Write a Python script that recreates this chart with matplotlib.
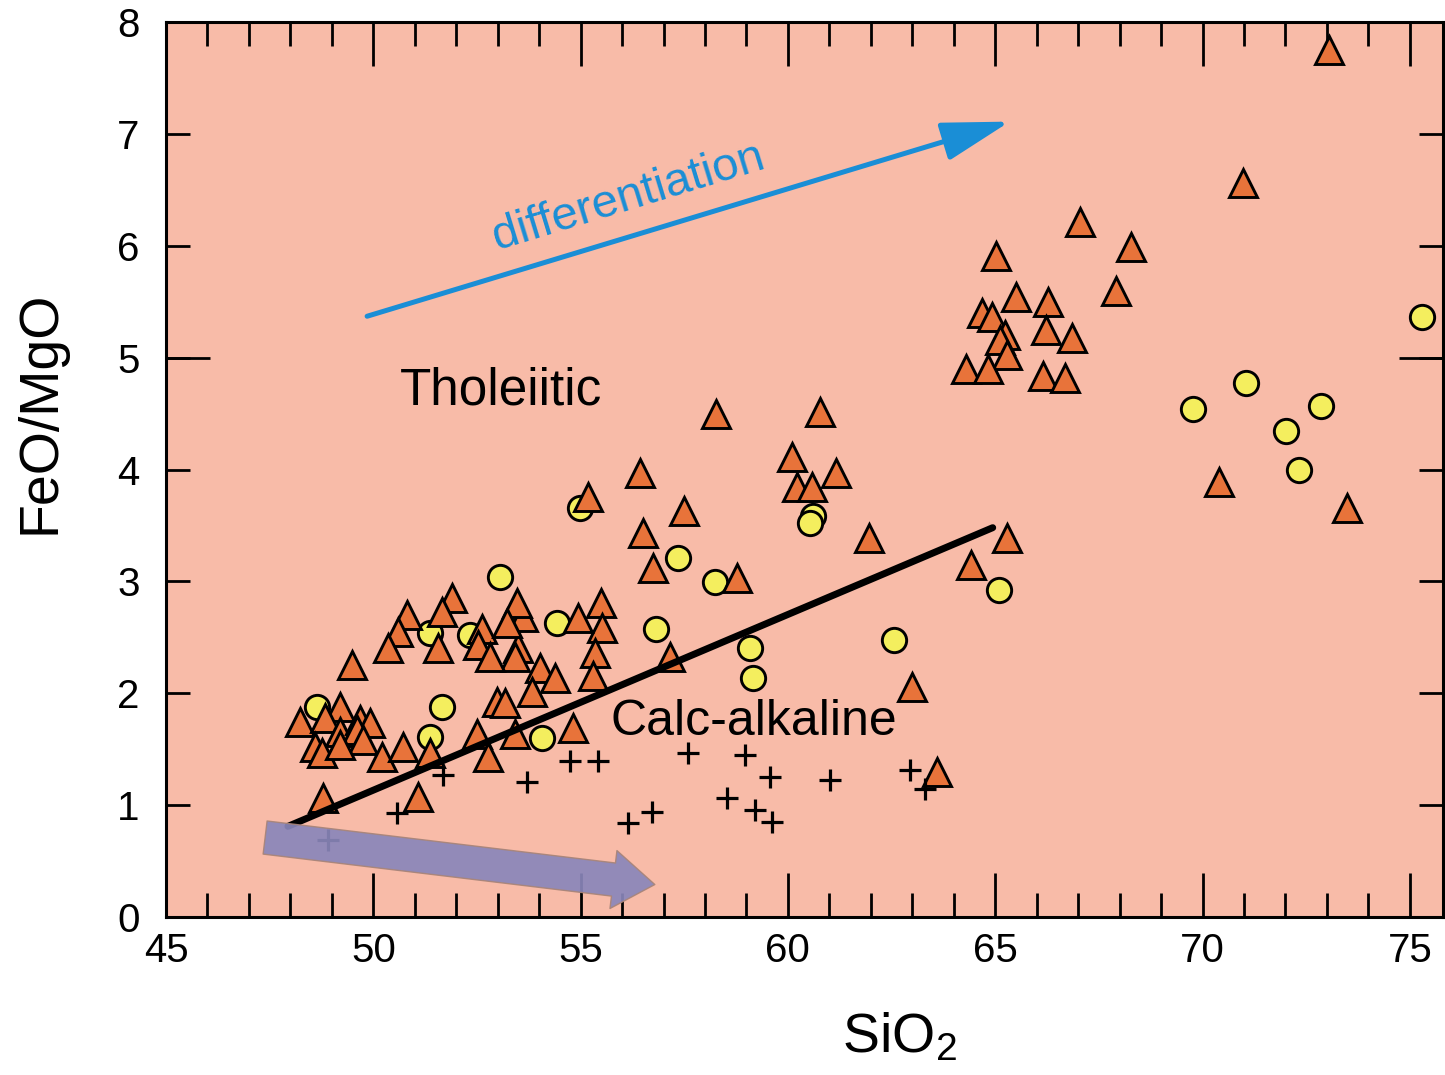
import matplotlib
matplotlib.use("Agg")
import matplotlib.pyplot as plt
from matplotlib.patches import FancyArrowPatch
from matplotlib.ticker import MultipleLocator, FixedLocator

plt.rcParams['font.family'] = ['Liberation Sans', 'DejaVu Sans']
plt.rcParams['mathtext.fontset'] = 'custom'
plt.rcParams['mathtext.rm'] = 'Liberation Sans'
plt.rcParams['mathtext.it'] = 'Liberation Sans:italic'

# triangles (orange)
tri_x = [73.04, 70.97, 70.39, 73.48, 67.04, 68.27, 65.01, 67.91, 65.50, 66.27,
         64.68, 64.92, 66.22, 65.23, 65.11, 66.85, 65.28, 64.29, 64.82, 66.15,
         66.68, 60.77, 60.10, 61.16, 60.22, 60.58, 61.95, 65.28, 64.41, 62.99,
         63.59, 56.43, 55.18, 57.49, 56.50, 56.74, 58.77, 58.26, 57.15, 55.49,
         55.51, 55.34, 55.30, 54.93, 54.81, 54.02, 54.38, 53.83, 53.61, 53.49,
         53.42, 51.90, 50.81, 51.66, 53.46, 50.59, 50.35, 51.56, 52.62, 53.22,
         52.52, 52.81, 49.49, 52.98, 53.17, 49.20, 48.23, 48.83, 49.20, 49.68,
         49.92, 49.61, 49.75, 48.59, 48.76, 49.20, 50.21, 50.71, 51.37, 52.50,
         52.76, 53.42, 48.79, 51.08]
tri_y = [7.75, 6.56, 3.89, 3.66, 6.21, 5.99, 5.91, 5.60, 5.54, 5.50,
         5.40, 5.36, 5.25, 5.20, 5.16, 5.18, 5.02, 4.90, 4.90, 4.84,
         4.82, 4.51, 4.11, 3.97, 3.84, 3.84, 3.39, 3.39, 3.15, 2.06,
         1.30, 3.97, 3.75, 3.63, 3.43, 3.12, 3.03, 4.50, 2.32, 2.81,
         2.58, 2.36, 2.15, 2.67, 1.69, 2.23, 2.14, 2.01, 2.68, 2.40,
         2.32, 2.85, 2.70, 2.73, 2.81, 2.55, 2.40, 2.40, 2.57, 2.63,
         2.43, 2.32, 2.25, 1.92, 1.91, 1.88, 1.74, 1.78, 1.65, 1.76,
         1.73, 1.67, 1.58, 1.52, 1.47, 1.54, 1.43, 1.52, 1.47, 1.64,
         1.43, 1.64, 1.06, 1.07]

# circles (yellow)
circ_x = [75.29, 71.04, 69.77, 72.85, 72.01, 72.32, 60.60, 60.53, 65.09, 62.55,
          54.98, 57.35, 58.24, 54.43, 56.82, 59.08, 59.15, 53.05, 51.37, 52.33,
          51.66, 48.64, 51.37, 54.07]
circ_y = [5.36, 4.77, 4.54, 4.57, 4.34, 4.00, 3.58, 3.52, 2.92, 2.48,
          3.66, 3.21, 2.99, 2.63, 2.57, 2.40, 2.14, 3.04, 2.54, 2.52,
          1.88, 1.88, 1.61, 1.60]

# crosses
plus_x = [51.68, 53.71, 54.74, 55.42, 50.57, 48.91, 57.59, 58.96, 59.56, 61.01,
          62.94, 63.30, 56.72, 56.14, 58.53, 59.20, 59.61]
plus_y = [1.27, 1.21, 1.39, 1.39, 0.93, 0.69, 1.47, 1.45, 1.25, 1.22,
          1.31, 1.14, 0.94, 0.84, 1.06, 0.96, 0.85]

# dividing line tholeiitic / calc-alkaline
line_x = [47.94, 64.94]
line_y = [0.81, 3.48]

# arrows (start, end)
diff_start = (49.85, 5.37)
diff_end = (65.35, 7.11)
calc_start = (47.39, 0.71)
calc_end = (56.79, 0.29)

fig = plt.figure(figsize=(14.45, 10.75), dpi=100)
ax = fig.add_axes([0.1149, 0.1470, 0.8837, 0.8325])
ax.set_facecolor('#F8BBA8')

ax.plot(circ_x, circ_y, 'o', ms=17.5, mfc='#F4EE5E', mec='black', mew=2.1, zorder=3)
ax.plot(tri_x, tri_y, '^', ms=20, mfc='#E8733A', mec='black', mew=2.1, zorder=4)
ax.plot(plus_x, plus_y, '+', ms=16, mec='black', mew=2.3, zorder=5)
ax.plot(line_x, line_y, color='black', lw=5, solid_capstyle='round', zorder=6)

blue = '#1A8ED6'
ax.add_patch(FancyArrowPatch(diff_start, diff_end, arrowstyle='-|>,head_length=0.7,head_width=0.2',
                             mutation_scale=60, lw=3.6, color=blue, shrinkA=0, shrinkB=0, zorder=6))
ax.text(52.98, 5.96, 'differentiation', color=blue, fontsize=34, rotation=17,
        rotation_mode='anchor', ha='left', va='baseline', zorder=7)

ax.add_patch(FancyArrowPatch(calc_start, calc_end,
                             arrowstyle='simple,tail_width=2.4,head_width=4.2,head_length=3.0',
                             mutation_scale=10, fc='#8A86BA', ec='#A88478', lw=1.0, alpha=0.92,
                             shrinkA=0, shrinkB=0, zorder=8))

ax.text(50.64, 4.58, 'Tholeiitic', fontsize=37, ha='left', va='baseline', zorder=7)
ax.text(55.71, 1.63, 'Calc-alkaline', fontsize=36, ha='left', va='baseline', zorder=7)

ax.set_xlim(45, 75.8)
ax.set_ylim(0, 8)

ax.xaxis.set_major_locator(MultipleLocator(5))
ax.xaxis.set_minor_locator(MultipleLocator(1))
ax.yaxis.set_major_locator(MultipleLocator(1))
ax.yaxis.remove_overlapping_locs = False
ax.yaxis.set_minor_locator(FixedLocator([5]))

ax.tick_params(axis='x', which='major', direction='in', top=True, bottom=True,
               length=32, width=2, labelsize=29, pad=11)
ax.tick_params(axis='x', which='minor', direction='in', top=True, bottom=True,
               length=17, width=2)
ax.tick_params(axis='y', which='major', direction='in', left=True, right=True,
               length=17, width=2, labelsize=29, pad=19)
ax.tick_params(axis='y', which='minor', direction='in', left=True, right=True,
               length=32, width=2)

for sp in ax.spines.values():
    sp.set_linewidth(2.2)

ax.set_xlabel(r'SiO$_2$', fontsize=40)
ax.xaxis.set_label_coords(0.574, -0.106)
ax.set_ylabel('FeO/MgO', fontsize=40)
ax.yaxis.set_label_coords(-0.078, 0.564)

fig.savefig('out.png', dpi=100)
